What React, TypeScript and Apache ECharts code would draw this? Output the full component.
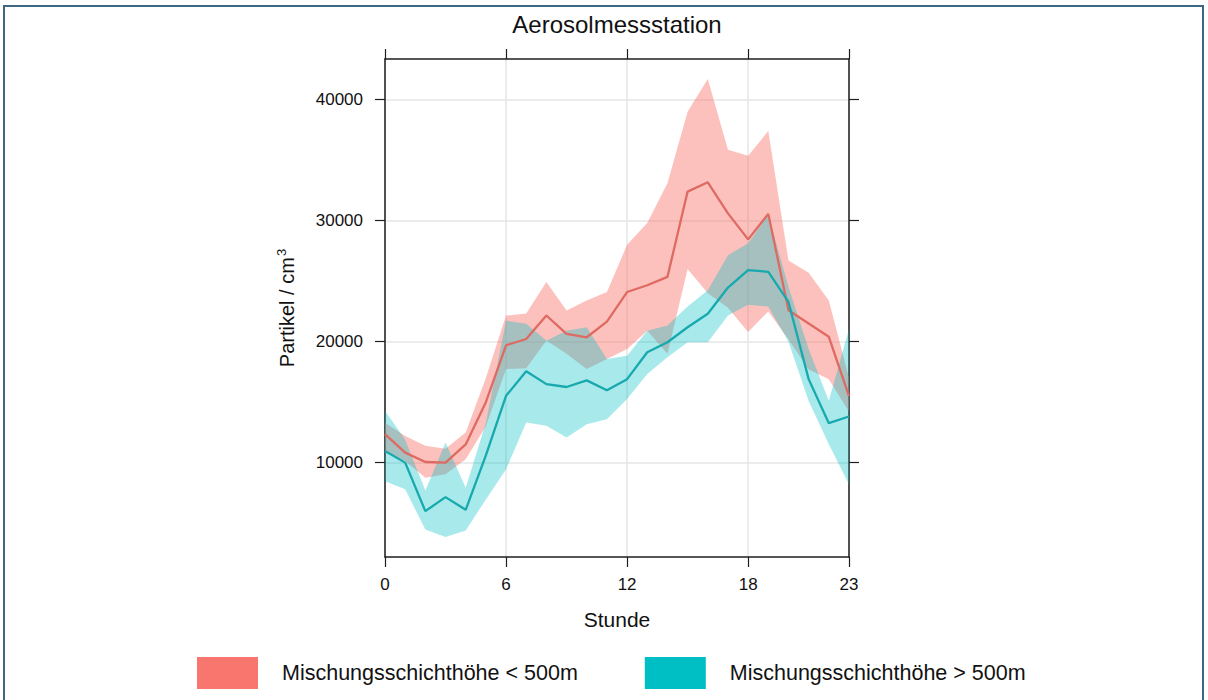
import { useEffect, useRef } from "react";
import * as echarts from "echarts";

// Hour of day (x categories)
const hours = [
  "0", "1", "2", "3", "4", "5", "6", "7", "8", "9", "10", "11",
  "12", "13", "14", "15", "16", "17", "18", "19", "20", "21", "22", "23",
];
const xTickHours = [0, 6, 12, 18, 23];
const yTicks = [10000, 20000, 30000, 40000];

const lowLabel = "Mischungsschichthöhe < 500m";
const highLabel = "Mischungsschichthöhe > 500m";

// Mixing layer height < 500 m: mean and band limits (particles / cm³)
const lowMean = [
  12350, 10830, 10050, 10000, 11500, 15000, 19700, 20220, 22160, 20640, 20360, 21650,
  24100, 24660, 25350, 32400, 33170, 30600, 28450, 30560, 22600, 21500, 20400, 15500,
];
const lowUpper = [
  13300, 12200, 11400, 11150, 12500, 17000, 22150, 22330, 24930, 22570, 23400, 24100,
  28000, 29800, 33100, 39000, 41700, 35860, 35360, 37400, 26700, 25700, 23400, 17000,
];
const lowLower = [
  10950, 10130, 8750, 9030, 10270, 13000, 17740, 17800, 20100, 19000, 17740, 18560,
  19400, 20900, 19000, 26000, 24000, 22800, 20800, 22500, 20200, 17700, 16900, 14200,
];

// Mixing layer height > 500 m
const highMean = [
  10960, 10000, 5990, 7150, 6100, 10600, 15520, 17550, 16490, 16250, 16800, 15980,
  16900, 19120, 19950, 21190, 22300, 24470, 25910, 25770, 23280, 16900, 13260, 13810,
];
const highUpper = [
  14280, 11900, 7700, 11660, 7930, 13300, 21740, 21470, 20100, 20910, 21190, 18560,
  18840, 20910, 21330, 22900, 24250, 27150, 28130, 30470, 24530, 19400, 15110, 21050,
];
const highLower = [
  8470, 7790, 4470, 3850, 4400, 6960, 9450, 13320, 13040, 12070, 13180, 13590,
  15250, 17320, 18700, 19950, 19950, 22160, 23050, 22900, 20000, 15100, 11520, 8200,
];

const RED = "#F8766D";
const TEAL = "#00BFC4";
const FONT = '"Liberation Sans", Arial, Helvetica, sans-serif';
const FRAME = "#1e1e1e";

function bandSeries(name: string, stack: string, lower: number[], upper: number[], color: string, opacity: number) {
  return [
    {
      name: name + " (unten)",
      type: "line",
      stack,
      data: lower,
      symbol: "none",
      silent: true,
      lineStyle: { width: 0, opacity: 0 },
      itemStyle: { color },
    },
    {
      name,
      type: "line",
      stack,
      data: upper.map((u, i) => u - lower[i]),
      symbol: "none",
      silent: true,
      lineStyle: { width: 0, opacity: 0 },
      itemStyle: { color },
      areaStyle: { color, opacity },
    },
  ];
}

function meanSeries(name: string, data: number[], color: string) {
  return {
    name,
    type: "line",
    data,
    symbol: "none",
    silent: true,
    lineStyle: { color, width: 2.3 },
    itemStyle: { color },
  };
}

export default function App() {
  const ref = useRef<HTMLDivElement>(null);

  useEffect(() => {
    if (!ref.current) return;
    const chart = echarts.init(ref.current, null, { renderer: "svg" });
    const isTick = (i: number) => xTickHours.includes(i);

    const option: any = {
      animation: false,
      backgroundColor: "#ffffff",
      title: {
        text: "Aerosolmessstation",
        left: 612,
        top: 7,
        textAlign: "center",
        textStyle: {
          fontFamily: FONT,
          fontSize: 24,
          fontWeight: "normal",
          color: "#111",
        },
      },
      graphic: [
        {
          type: "rect",
          shape: { x: 4, y: 6, width: 1199, height: 720 },
          style: { fill: "none", stroke: "#3d6882", lineWidth: 2 },
          silent: true,
        },
      ],
      legend: {
        left: 197,
        top: 657,
        padding: 0,
        itemWidth: 61,
        itemHeight: 32,
        itemGap: 67,
        icon: "rect",
        selectedMode: false,
        textStyle: { fontFamily: FONT, fontSize: 21.5, color: "#111", padding: [0, 0, 0, 19] },
        data: [
          { name: lowLabel, itemStyle: { color: RED, opacity: 1 } },
          { name: highLabel, itemStyle: { color: TEAL, opacity: 1 } },
        ],
      },
      grid: { left: 385, top: 59, width: 464, height: 498, containLabel: false },
      xAxis: [
        {
          type: "category",
          data: hours,
          boundaryGap: false,
          position: "bottom",
          name: "Stunde",
          nameLocation: "middle",
          nameGap: 52,
          nameTextStyle: { fontFamily: FONT, fontSize: 21, color: "#111" },
          axisLine: { show: true, lineStyle: { color: FRAME, width: 1.5 } },
          axisTick: { show: true, interval: isTick, length: 10, lineStyle: { color: FRAME, width: 1.2 } },
          axisLabel: { interval: isTick, margin: 19, fontFamily: FONT, fontSize: 17, color: "#111" },
          splitLine: { show: true, interval: isTick, lineStyle: { color: "#e6e6e6", width: 1.5 } },
        },
        {
          type: "category",
          data: hours,
          boundaryGap: false,
          position: "top",
          axisLine: { show: true, lineStyle: { color: FRAME, width: 1.5 } },
          axisTick: { show: true, interval: isTick, length: 10, lineStyle: { color: FRAME, width: 1.2 } },
          axisLabel: { show: false },
          splitLine: { show: false },
        },
      ],
      yAxis: [
        {
          type: "value",
          min: 2200,
          max: 43360,
          position: "left",
          name: "Partikel / cm{sup|3}",
          nameLocation: "middle",
          nameGap: 87,
          nameRotate: 90,
          nameTextStyle: {
            fontFamily: FONT,
            fontSize: 20,
            color: "#111",
            rich: {
              sup: { fontFamily: FONT, fontSize: 13, color: "#111", verticalAlign: "top", padding: [0, 0, 10, 1] },
            },
          },
          axisLine: { show: true, lineStyle: { color: FRAME, width: 1.5 } },
          axisTick: { show: true, customValues: yTicks, length: 10, lineStyle: { color: FRAME, width: 1.2 } },
          axisLabel: {
            customValues: yTicks,
            margin: 22,
            fontFamily: FONT,
            fontSize: 17,
            color: "#111",
            formatter: (v: number) => String(v),
          },
          splitLine: { show: true, lineStyle: { color: "#e6e6e6", width: 1.5 } },
        },
        {
          type: "value",
          min: 2200,
          max: 43360,
          position: "right",
          axisLine: { show: true, lineStyle: { color: FRAME, width: 1.5 } },
          axisTick: { show: true, customValues: yTicks, length: 10, lineStyle: { color: FRAME, width: 1.2 } },
          axisLabel: { show: false },
          splitLine: { show: false },
        },
      ],
      series: [
        ...bandSeries(lowLabel, "low", lowLower, lowUpper, RED, 0.45),
        meanSeries("Mittelwert < 500m", lowMean, "#de6a62"),
        ...bandSeries(highLabel, "high", highLower, highUpper, TEAL, 0.34),
        meanSeries("Mittelwert > 500m", highMean, "#17a9ad"),
      ],
    };

    chart.setOption(option);
    return () => chart.dispose();
  }, []);

  return (
    <div
      ref={ref}
      style={{ position: "fixed", left: 0, top: 0, width: 1208, height: 700, background: "#fff" }}
    />
  );
}
